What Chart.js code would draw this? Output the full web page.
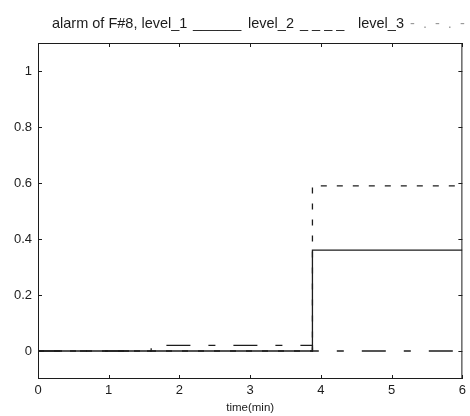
<!DOCTYPE html>
<html>
<head>
<meta charset="utf-8">
<script src="https://cdn.jsdelivr.net/npm/chart.js@4.4.1/dist/chart.umd.min.js"></script>
<style>
	html, body { margin: 0; padding: 0; background: #fff; }
	#wrap { position: relative; width: 470px; height: 416px; }
</style>
</head>
<body>
<div id="wrap"><canvas id="alarmChart"></canvas></div>
<script>
// alarm levels of F#8 over time (step traces)
const timeLevel1 = [0, 3.88, 3.88, 6];
const valueLevel1 = [0, 0, 0.36, 0.36];

const timeLevel2 = [0, 3.88, 3.88, 6];
const valueLevel2 = [0, 0, 0.59, 0.59];

const timeLevel3 = [0, 1.6, 1.6, 3.88, 3.88, 6];
const valueLevel3 = [0, 0, 0.02, 0.02, 0, 0];

const xTicks = [0, 1, 2, 3, 4, 5, 6];
const yTicks = [0, 0.2, 0.4, 0.6, 0.8, 1];

// heading pieces: [text, left x, colour]
const titleParts = [
	['alarm of F#8, level_1', 52, '#1c1c1c'],
	['______', 193, '#1c1c1c'],
	['level_2', 248, '#1c1c1c'],
	['_ _ _ _', 300, '#1c1c1c'],
	['level_3', 358, '#1c1c1c'],
	['-  .  -  .  -', 410, '#9a9a9a'],
];
const xTitle = 'time(min)';

const INK = '#1c1c1c';
const FONT = 'Liberation Sans, Arial, sans-serif';

const toPoints = (xs, ys) => xs.map((x, i) => ({ x: x, y: ys[i] }));

const stepDataset = (data, dash) => ({
	data: data,
	borderColor: INK,
	borderWidth: 1.3,
	borderDash: dash,
	pointRadius: 0,
	showLine: true,
	fill: false,
	tension: 0,
});

// heading line drawn piece by piece above the plot
const headingText = {
	id: 'headingText',
	afterDraw(chart) {
		const { ctx } = chart;
		ctx.save();
		ctx.font = `14.5px ${FONT}`;
		ctx.textAlign = 'left';
		ctx.textBaseline = 'alphabetic';
		titleParts.forEach(([text, x, color]) => {
			ctx.fillStyle = color;
			ctx.fillText(text, x, 28);
		});
		ctx.restore();
	},
};

// box frame with short inward ticks on all four sides
const frameTicks = {
	id: 'frameTicks',
	afterDraw(chart) {
		const { ctx, chartArea: a, scales } = chart;
		const len = 4;
		ctx.save();
		ctx.strokeStyle = INK;
		ctx.lineWidth = 1;
		ctx.setLineDash([]);
		ctx.strokeRect(a.left + 0.5, a.top + 0.5, a.right - a.left - 1, a.bottom - a.top - 1);
		ctx.beginPath();
		xTicks.forEach((v) => {
			const px = Math.round(scales.x.getPixelForValue(v)) + 0.5;
			ctx.moveTo(px, a.bottom);
			ctx.lineTo(px, a.bottom - len);
			ctx.moveTo(px, a.top);
			ctx.lineTo(px, a.top + len);
		});
		yTicks.forEach((v) => {
			const py = Math.round(scales.y.getPixelForValue(v)) + 0.5;
			ctx.moveTo(a.left, py);
			ctx.lineTo(a.left + len, py);
			ctx.moveTo(a.right, py);
			ctx.lineTo(a.right - len, py);
		});
		ctx.stroke();
		ctx.restore();
	},
};

new Chart(document.getElementById('alarmChart'), {
	type: 'scatter',
	data: {
		datasets: [
			stepDataset(toPoints(timeLevel3, valueLevel3), [24, 18, 7, 18]),
			stepDataset(toPoints(timeLevel2, valueLevel2), [6, 10]),
			stepDataset(toPoints(timeLevel1, valueLevel1), []),
		],
	},
	options: {
		responsive: true,
		maintainAspectRatio: false,
		animation: false,
		layout: { padding: { left: 0, right: 4, top: 43, bottom: 0 } },
		plugins: {
			legend: { display: false },
			tooltip: { enabled: false },
			title: { display: false },
		},
		scales: {
			x: {
				type: 'linear',
				min: 0,
				max: 6,
				afterBuildTicks: (scale) => { scale.ticks = xTicks.map((v) => ({ value: v })); },
				afterFit: (scale) => { scale.height = 37; },
				grid: { display: false, drawTicks: false },
				border: { display: false },
				ticks: { color: INK, padding: 4, font: { family: FONT, size: 13 } },
				title: {
					display: true,
					text: xTitle,
					color: INK,
					font: { family: FONT, size: 11.5 },
					padding: { top: 0, bottom: 1 },
				},
			},
			y: {
				type: 'linear',
				min: -0.1,
				max: 1.1,
				afterBuildTicks: (scale) => { scale.ticks = yTicks.map((v) => ({ value: v })); },
				afterFit: (scale) => { scale.width = 38; },
				grid: { display: false, drawTicks: false },
				border: { display: false },
				ticks: {
					color: INK,
					padding: 6,
					font: { family: FONT, size: 13 },
					callback: (v) => String(Math.round(v * 10) / 10),
				},
			},
		},
	},
	plugins: [headingText, frameTicks],
});
</script>
</body>
</html>
